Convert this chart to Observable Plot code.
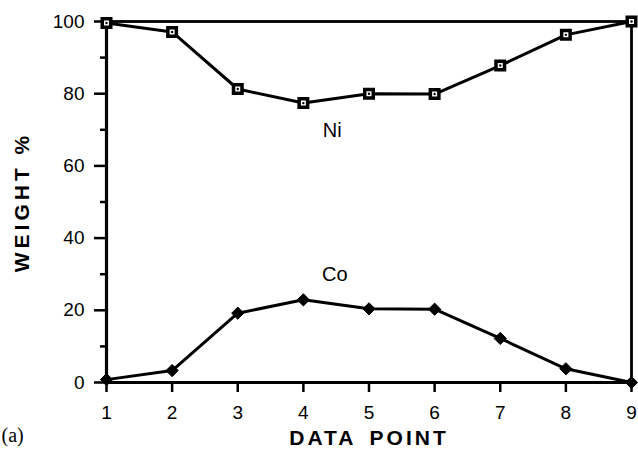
<!DOCTYPE html>
<html><head><meta charset="utf-8">
<script src="https://cdn.jsdelivr.net/npm/d3@7"></script>
<script src="https://cdn.jsdelivr.net/npm/@observablehq/plot@0.6"></script>
<style>body{margin:0;background:#fff}</style>
</head><body><div id="chart"></div>
<script>
const dataPoints = [1, 2, 3, 4, 5, 6, 7, 8, 9];
const niValues = [99.6, 97.1, 81.3, 77.4, 80.0, 79.9, 87.8, 96.3, 100];
const coValues = [0.8, 3.3, 19.2, 22.9, 20.4, 20.3, 12.2, 3.8, 0];
const yMajorTicks = [0, 20, 40, 60, 80, 100];
const yMinorTicks = [10, 30, 50, 70, 90];
const xTicks = [1, 2, 3, 4, 5, 6, 7, 8, 9];
const seriesNames = ["Ni", "Co"];
const seriesLabelX = [4.44, 4.48];
const seriesLabelY = [69.9, 29.8];
const yTitle = "WEIGHT %";
const xTitle = "DATA POINT";
const panelTag = "(a)";

const ni = dataPoints.map((d, i) => ({x: d, y: niValues[i]}));
const co = dataPoints.map((d, i) => ({x: d, y: coValues[i]}));
const labels = seriesNames.map((n, i) => ({name: n, x: seriesLabelX[i], y: seriesLabelY[i]}));

const chart = Plot.plot({
  width: 638, height: 459,
  marginLeft: 106, marginRight: 7, marginTop: 21, marginBottom: 77,
  x: {domain: [1, 9]},
  y: {domain: [0, 100]},
  style: {fontFamily: "'Liberation Sans', Arial, sans-serif", fontSize: "19px", color: "#000", background: "#fff"},
  marks: [
    Plot.frame({strokeWidth: 2.8}),
    Plot.ruleX([1], {strokeWidth: 3.2}),
    Plot.ruleY([0], {strokeWidth: 3.2}),
    Plot.axisY({ticks: yMinorTicks, tickSize: 6, tickFormat: () => "", strokeWidth: 2.5, label: null}),
    Plot.axisY({ticks: yMajorTicks, tickSize: 12, tickPadding: 10, strokeWidth: 2.5, label: null, fontSize: 19}),
    Plot.axisX({ticks: xTicks, tickSize: 10, tickPadding: 13, strokeWidth: 2.5, label: null, tickFormat: "d", fontSize: 19}),
    Plot.line(ni, {x: "x", y: "y", strokeWidth: 3, stroke: "black"}),
    Plot.line(co, {x: "x", y: "y", strokeWidth: 3, stroke: "black"}),
    Plot.dot(ni, {x: "x", y: "y", symbol: "square", r: 4.8, fill: "white", stroke: "black", strokeWidth: 3.5}),
    Plot.dot(ni, {x: "x", y: "y", r: 1.2, fill: "black"}),
    Plot.dot(co, {x: "x", y: "y", symbol: "diamond2", r: 5.5, fill: "black", stroke: "black", strokeWidth: 1}),
    Plot.text(labels, {x: "x", y: "y", text: "name", fontSize: 20}),
    Plot.text([yTitle], {frameAnchor: "left", textAnchor: "middle", dx: -84, rotate: -90, fontWeight: "bold", fontSize: 21}),
    Plot.text([xTitle], {frameAnchor: "bottom", textAnchor: "middle", dy: 62, fontWeight: "bold", fontSize: 21}),
    Plot.text([panelTag], {frameAnchor: "bottom-left", textAnchor: "start", dx: -105, dy: 59, fontSize: 20, fontFamily: "'Liberation Serif', serif"})
  ]
});
d3.select(chart).selectAll("text").filter(function() { return this.textContent === xTitle; })
  .attr("letter-spacing", 3).attr("word-spacing", 5);
d3.select(chart).selectAll("text").filter(function() { return this.textContent === yTitle; })
  .attr("letter-spacing", 4);
document.getElementById("chart").append(chart);
</script>
</body></html>
